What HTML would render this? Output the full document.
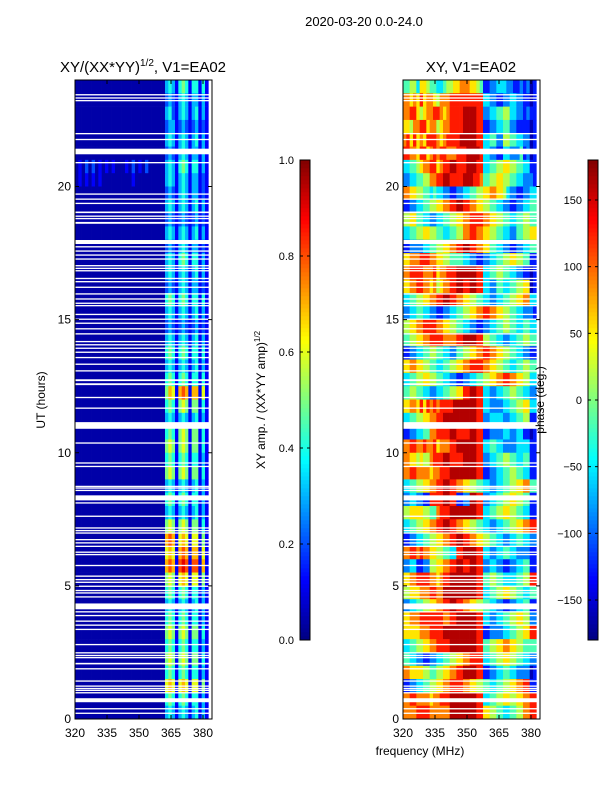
<!DOCTYPE html>
<html><head><meta charset="utf-8"><style>
html,body{margin:0;padding:0;background:#fff;}
svg{display:block;font-family:"Liberation Sans",sans-serif;}
</style></head><body>
<svg id="fig" width="600" height="800" viewBox="0 0 600 800">
<text x="364" y="26" font-size="13" text-anchor="middle">2020-03-20 0.0-24.0</text>
<text x="143" y="72" font-size="15" text-anchor="middle">XY/(XX*YY)<tspan font-size="10" dy="-6">1/2</tspan><tspan dy="6">, V1=EA02</tspan></text>
<text x="471" y="72" font-size="15" text-anchor="middle">XY, V1=EA02</text>
<text x="420" y="755" font-size="12" text-anchor="middle">frequency (MHz)</text>
<text transform="translate(45,400) rotate(-90)" font-size="12" text-anchor="middle">UT (hours)</text>
<text transform="translate(265,400) rotate(-90)" font-size="12" text-anchor="middle">XY amp. / (XX*YY amp)<tspan font-size="8" dy="-5">1/2</tspan></text>
<g id="left"></g>
<g id="right"></g>
<text transform="translate(544,400) rotate(-90)" font-size="12" text-anchor="middle">phase (deg.)</text>
<g id="cb"></g>
</svg>
<script>
const freqStart = 320, freqStep = 1.5625, nCols = 40;
const rowStep = 0.5;
const ampLevels = [0.04,0.12,0.2,0.3,0.4,0.5,0.6,0.7,0.8,0.9];
// rows listed from top (23.5-24h) down to 0-0.5h
const Z27 = "000000000000000000000000000";
const ampLeft = [Z27,Z27,Z27,Z27,Z27,Z27,"010202010101000102010200000","010101010000000001000000000",Z27,Z27,Z27,Z27,Z27,Z27,Z27,Z27,Z27,Z27,Z27,Z27,Z27,Z27,Z27,Z27,Z27,Z27,Z27,Z27,Z27,Z27,Z27,Z27,Z27,Z27,Z27,Z27,Z27,Z27,Z27,Z27,Z27,Z27,Z27,Z27,Z27,Z27,Z27,Z27];
const ampRight = ["3431454144141","2321343133131","3421343134131","2331232123121","3431343134131","2321343133131","3431454144131","3431343133121","2321343133121","3431343134131","2321232123121","3431343134131","2321343133121","3431454144131","3431343134131","2321343133121","4541454144141","3431343134131","2321232123121","3431343134131","4541454144141","3431343134131","4541454144141","5761787177161","4541565155141","3431343134131","4541565155141","5651565155141","4541454144131","5651565155141","3431343134131","4541454144131","3431343134131","5651565155141","7871676166151","6761787177161","7871898188171","5651676166151","4541454144131","3431343134131","4541454144131","5651565155141","4541454144131","5651565155141","4541454144131","6761676166151","4541454144131","3431343134131"];
const phaseRows = [
"4455366544334556677766541122333221121201",
"7767686776577788888888883322112233221101",
"7788656778876788889999882233445533221211",
"6657788677567788889999881122334422111101",
"7868676888767888899999883344225544332201",
"8877688678788777888999983322113322241201",
"3344567788678899888999883344556655443311",
"2233445577889988889998874455665544332221",
"7766554434332211223344556677665322112233",
"1122334455667788998877665544332211223344",
"5566443322334455667788887766554433445544",
"3344556655443344557788776655443322445566",
"1122223344556677889988776644332211223344",
"6677788877665544443322112233445566554411",
"7788887778677888999999883344554433221101",
"6677887767567788998899883322443344556601",
"3344556677889988776655443322334455667733",
"2233443322112233445566778877665544332221",
"5566778888776655443322112233445544334433",
"4455667788887777889999885544332233445544",
"1122334455443322445566778877665544332211",
"6677665544334455667788887766554433445544",
"3344556655443322112233445566778877665533",
"4455443322334455668899883322334455443322",
"6677686878788889999999883322223344556633",
"3344556677889999999999882233332233445511",
"1122334477888899888899881122223322331101",
"7788778778677788999999883344332222333311",
"7766565578889988889999882233445544334411",
"7788777767788899999999881122334455443311",
"3344556677889988776655443322334455667744",
"2233221188889988112299882233445566554411",
"5566665544788899999999883344556655443311",
"3344556677889988776655443322334455667788",
"1122334455667788998877665544332233443322",
"7788787766554433889999883322334433222211",
"2233112255667788998899882233221122334411",
"6677888877678899999999884455443333445588",
"5566677788779999999999883344556655443344",
"2233445566778899887766554433221122334411",
"6677788888887788999999883322334455665522",
"6666677788889999999999881122223344556688",
"3344556677888899999999884455667766554444",
"4433221122334455667788883344556655443322",
"7766665544556677889999881122334433222201",
"1122334455667788887766554433445566778811",
"7788777767788899999999883344556655667788",
"7777888877777799999999886655443344557788"];
// flagged (white) time ranges [start hour, duration]
const gapStart = [23.42,23.30,23.20,21.96,21.74,21.21,20.87,19.69,19.50,19.34,19.00,18.86,18.77,18.60,17.84,17.71,17.55,17.40,17.25,17.0,16.90,16.81,16.52,16.40,16.19,15.94,15.75,15.59,15.50,15.17,14.99,14.84,14.63,14.44,14.15,14.03,13.90,13.75,13.55,13.30,13.05,12.69,12.54,12.05,11.65,10.90,10.34,9.59,9.46,8.71,8.65,8.56,8.21,8.09,7.59,7.15,7.05,6.96,6.71,6.59,6.46,6.24,6.15,5.74,5.34,5.21,5.11,4.96,4.80,4.71,4.56,4.12,4.0,3.86,3.65,3.50,3.34,2.77,2.46,2.36,2.28,2.05,1.86,1.40,1.21,1.12,1.05,0.96,0.63,0.36,0.19];
const gapLen = [0.05,0.05,0.05,0.05,0.05,0.21,0.05,0.05,0.05,0.05,0.06,0.05,0.05,0.07,0.15,0.05,0.05,0.05,0.05,0.05,0.05,0.05,0.05,0.05,0.05,0.05,0.05,0.05,0.05,0.05,0.05,0.05,0.05,0.05,0.05,0.05,0.05,0.05,0.05,0.05,0.05,0.07,0.07,0.05,0.05,0.25,0.05,0.05,0.05,0.05,0.05,0.05,0.19,0.05,0.05,0.05,0.05,0.05,0.05,0.05,0.05,0.05,0.05,0.05,0.05,0.05,0.05,0.05,0.05,0.05,0.05,0.22,0.05,0.05,0.05,0.05,0.05,0.05,0.05,0.05,0.05,0.06,0.05,0.05,0.05,0.05,0.05,0.05,0.15,0.05,0.05];
const xTicks = [320,335,350,365,380];
const yTicks = [0,5,10,15,20];
const ampTicks = [0.0,0.2,0.4,0.6,0.8,1.0];
const phaseTicks = [-150,-100,-50,0,50,100,150];

const NS="http://www.w3.org/2000/svg";
function jet(v){v=Math.max(0,Math.min(1,v));
 const r=Math.max(0,Math.min(1,Math.min(4*v-1.5,-4*v+4.5)));
 const g=Math.max(0,Math.min(1,Math.min(4*v-0.5,-4*v+3.5)));
 const b=Math.max(0,Math.min(1,Math.min(4*v+0.5,-4*v+2.5)));
 return `rgb(${Math.round(r*255)},${Math.round(g*255)},${Math.round(b*255)})`;}
function mk(tag,attrs,parent){const e=document.createElementNS(NS,tag);for(const k in attrs)e.setAttribute(k,attrs[k]);parent.appendChild(e);return e;}
function yScale(h){return 719-(h/24)*639;}
function makeX(x0){return f=>x0+(f-320)*(128/60);}

function panel(gid,x0,getVal){
 const g=document.getElementById(gid);const xs=makeX(x0);
 for(let i=0;i<48;i++){
  const hTop=24-i*rowStep;
  for(let c=0;c<nCols;c++){
   const f=freqStart+c*freqStep;
   const r=mk('rect',{x:xs(f),y:yScale(hTop),width:xs(f+freqStep)-xs(f)+0.3,height:yScale(hTop-rowStep)-yScale(hTop)+0.3,fill:jet(getVal(i,c))},g);
   
   
  }
 }
 for(let k=0;k<gapStart.length;k++){
  const r=mk('rect',{x:x0,y:yScale(gapStart[k]+gapLen[k]),width:137,height:yScale(gapStart[k])-yScale(gapStart[k]+gapLen[k]),fill:'#fff'},g);
  
  
 }
 mk('rect',{x:x0,y:80,width:137,height:639,fill:'none',stroke:'#000','stroke-width':1},g);
 xTicks.forEach(t=>{const x=xs(t);
  mk('line',{x1:x,x2:x,y1:719,y2:715,stroke:'#000'},g);mk('line',{x1:x,x2:x,y1:80,y2:84,stroke:'#000'},g);
  const tx=mk('text',{x:x,y:737,'font-size':12,'text-anchor':'middle'},g);tx.textContent=t;
  
  });
 yTicks.forEach(t=>{const y=yScale(t);
  mk('line',{x1:x0,x2:x0+4,y1:y,y2:y,stroke:'#000'},g);mk('line',{x1:x0+137,x2:x0+133,y1:y,y2:y,stroke:'#000'},g);
  const tx=mk('text',{x:x0-4,y:y+4,'font-size':12,'text-anchor':'end'},g);tx.textContent=t;
  
  });
}
panel('left',75,(i,c)=>{const s=ampLeft[i]+ampRight[i];return ampLevels[+s[c]];});
panel('right',403,(i,c)=>{const d=+phaseRows[i][c];return (d+0.5)/10;});

function colorbar(x,ticks,lo,hi,fmt){
 const g=document.getElementById('cb');
 for(let k=0;k<120;k++){const v=(k+0.5)/120;
  mk('rect',{x:x,y:640-(k+1)*4,width:10,height:4.3,fill:jet(v)},g);}
 mk('rect',{x:x,y:160,width:10,height:480,fill:'none',stroke:'#000'},g);
 ticks.forEach(t=>{const y=640-(t-lo)/(hi-lo)*480;
  mk('line',{x1:x,x2:x+3,y1:y,y2:y,stroke:'#000'},g);mk('line',{x1:x+10,x2:x+7,y1:y,y2:y,stroke:'#000'},g);
  const tx=mk('text',{x:x-6,y:y+4,'font-size':11,'text-anchor':'end'},g);tx.textContent=fmt(t);
  
  });
}
colorbar(300,ampTicks,0,1,t=>t.toFixed(1));
colorbar(588,phaseTicks,-180,180,t=>t<0?'\u2212'+(-t):''+t);
</script>
</body></html>
